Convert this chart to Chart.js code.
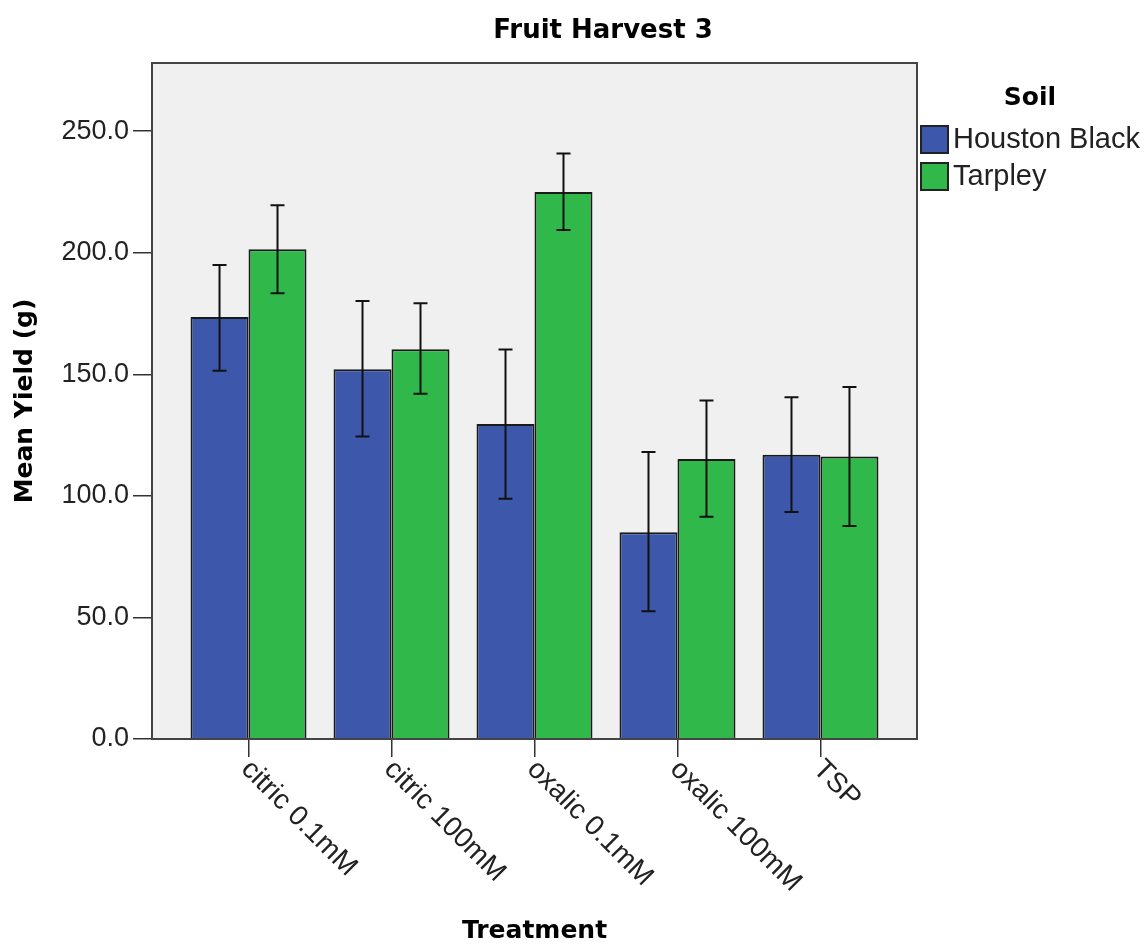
<!DOCTYPE html>
<html>
<head>
<meta charset="utf-8">
<title>Fruit Harvest 3</title>
<script src="https://cdn.jsdelivr.net/npm/chart.js@4.4.1/dist/chart.umd.min.js"></script>
<style>
    body { margin: 0; background: #fff; }
    #wrap { width: 1148px; height: 946px; position: relative; }
</style>
</head>
<body>
<div id="wrap"><canvas id="chart"></canvas></div>
<script>
// Data
const treatments = ['citric 0.1mM', 'citric 100mM', 'oxalic 0.1mM', 'oxalic 100mM', 'TSP'];
const soils = ['Houston Black', 'Tarpley'];

const houstonMean = [173.5, 152.1, 129.5, 85.0, 116.9];
const houstonLow = [151.4, 124.4, 98.8, 52.5, 93.4];
const houstonHigh = [194.9, 180.1, 160.2, 118.0, 140.5];

const tarpleyMean = [201.4, 160.3, 225.0, 115.1, 116.2];
const tarpleyLow = [183.3, 142.0, 209.3, 91.4, 87.6];
const tarpleyHigh = [219.5, 179.2, 240.8, 139.2, 144.8];

const yTicks = [0, 50, 100, 150, 200, 250];
const yMax = 278;

const colors = ['#3d58ab', '#30b84a'];

const regularFont = '"Liberation Sans", Arial, sans-serif';
const boldFont = '"DejaVu Sans", Verdana, sans-serif';

// Gray plot background
const plotBackground = {
    id: 'plotBackground',
    beforeDraw(chart) {
        const { ctx, chartArea: a } = chart;
        ctx.save();
        ctx.fillStyle = '#f0f0f0';
        ctx.fillRect(a.left, a.top, a.right - a.left, a.bottom - a.top);
        ctx.restore();
    }
};

// Frame, error bars, rotated category labels, legend and title
const extras = {
    id: 'extras',
    afterDatasetsDraw(chart) {
        const { ctx, chartArea: a, scales } = chart;
        const y = scales.y;
        const lows = [houstonLow, tarpleyLow];
        const highs = [houstonHigh, tarpleyHigh];

        ctx.save();
        ctx.strokeStyle = '#111';
        ctx.lineWidth = 2;
        chart.data.datasets.forEach((ds, i) => {
            const meta = chart.getDatasetMeta(i);
            meta.data.forEach((bar, j) => {
                const yLo = y.getPixelForValue(lows[i][j]);
                const yHi = y.getPixelForValue(highs[i][j]);
                ctx.beginPath();
                ctx.moveTo(bar.x, yLo);
                ctx.lineTo(bar.x, yHi);
                ctx.moveTo(bar.x - 7, yLo);
                ctx.lineTo(bar.x + 7, yLo);
                ctx.moveTo(bar.x - 7, yHi);
                ctx.lineTo(bar.x + 7, yHi);
                ctx.stroke();
            });
        });

        // frame around the plot
        ctx.strokeStyle = '#444';
        ctx.lineWidth = 2;
        ctx.strokeRect(a.left, a.top, a.right - a.left, a.bottom - a.top);
        ctx.restore();
    },
    afterDraw(chart) {
        const { ctx, chartArea: a, scales } = chart;
        const x = scales.x;

        ctx.save();
        // category labels, rotated down to the right
        ctx.fillStyle = '#222';
        ctx.font = '28px ' + regularFont;
        ctx.textAlign = 'left';
        ctx.textBaseline = 'middle';
        treatments.forEach((t, i) => {
            const px = x.getPixelForValue(i);
            ctx.save();
            ctx.translate(px - 3, a.bottom + 26);
            ctx.rotate(Math.PI / 4);
            ctx.fillText(t, 0, 0);
            ctx.restore();
        });

        // title
        ctx.fillStyle = '#000';
        ctx.font = 'bold 26px ' + boldFont;
        ctx.textAlign = 'center';
        ctx.textBaseline = 'alphabetic';
        ctx.fillText('Fruit Harvest 3', 603, 38);

        // legend
        ctx.font = 'bold 25px ' + boldFont;
        ctx.fillText('Soil', 1030, 105);
        ctx.font = '29px ' + regularFont;
        ctx.textAlign = 'left';
        ctx.textBaseline = 'middle';
        chart.data.datasets.forEach((ds, i) => {
            const top = 126 + i * 37;
            ctx.fillStyle = ds.backgroundColor;
            ctx.fillRect(921, top, 27, 27);
            ctx.strokeStyle = '#222';
            ctx.lineWidth = 2;
            ctx.strokeRect(921, top, 27, 27);
            ctx.fillStyle = '#222';
            ctx.fillText(ds.label, 953, top + 14);
        });
        ctx.restore();
    }
};

const ctx = document.getElementById('chart');

new Chart(ctx, {
    type: 'bar',
    data: {
        datasets: [
            {
                label: soils[0],
                data: treatments.map((t, i) => ({ x: i, y: houstonMean[i] })),
                backgroundColor: colors[0],
                borderColor: '#1a1a1a',
                borderWidth: 2
            },
            {
                label: soils[1],
                data: treatments.map((t, i) => ({ x: i, y: tarpleyMean[i] })),
                backgroundColor: colors[1],
                borderColor: '#1a1a1a',
                borderWidth: 2
            }
        ]
    },
    options: {
        responsive: true,
        maintainAspectRatio: false,
        animation: false,
        categoryPercentage: 0.811,
        barPercentage: 1.0,
        layout: {
            padding: { top: 63, right: 231, bottom: 0, left: 0 }
        },
        plugins: {
            legend: { display: false },
            title: { display: false },
            tooltip: { enabled: false }
        },
        scales: {
            x: {
                type: 'linear',
                min: -0.675,
                max: 4.675,
                offset: false,
                afterBuildTicks: (scale) => {
                    scale.ticks = treatments.map((t, i) => ({ value: i }));
                },
                afterFit: (scale) => { scale.height = 207; },
                ticks: { display: false, includeBounds: false },
                grid: {
                    offset: false,
                    drawOnChartArea: false,
                    drawTicks: true,
                    tickLength: 18,
                    color: '#333',
                    lineWidth: 1.5
                },
                border: { display: false },
                title: {
                    display: true,
                    text: 'Treatment',
                    color: '#000',
                    font: { family: boldFont, size: 25, weight: 'bold', lineHeight: 1.2 },
                    padding: { top: 159, bottom: 0 }
                }
            },
            y: {
                min: 0,
                max: yMax,
                afterBuildTicks: (scale) => {
                    scale.ticks = yTicks.map(v => ({ value: v }));
                },
                afterFit: (scale) => { scale.width = 152; },
                ticks: {
                    includeBounds: false,
                    padding: 4,
                    color: '#222',
                    font: { family: regularFont, size: 27 },
                    callback: (v) => v.toFixed(1)
                },
                grid: {
                    drawOnChartArea: false,
                    drawTicks: true,
                    tickLength: 19,
                    color: '#333',
                    lineWidth: 1.5
                },
                border: { display: false },
                title: {
                    display: true,
                    text: 'Mean Yield (g)',
                    color: '#000',
                    font: { family: boldFont, size: 25, weight: 'bold', lineHeight: 1.2 },
                    padding: { top: 10, bottom: 0 }
                }
            }
        }
    },
    plugins: [plotBackground, extras]
});
</script>
</body>
</html>
